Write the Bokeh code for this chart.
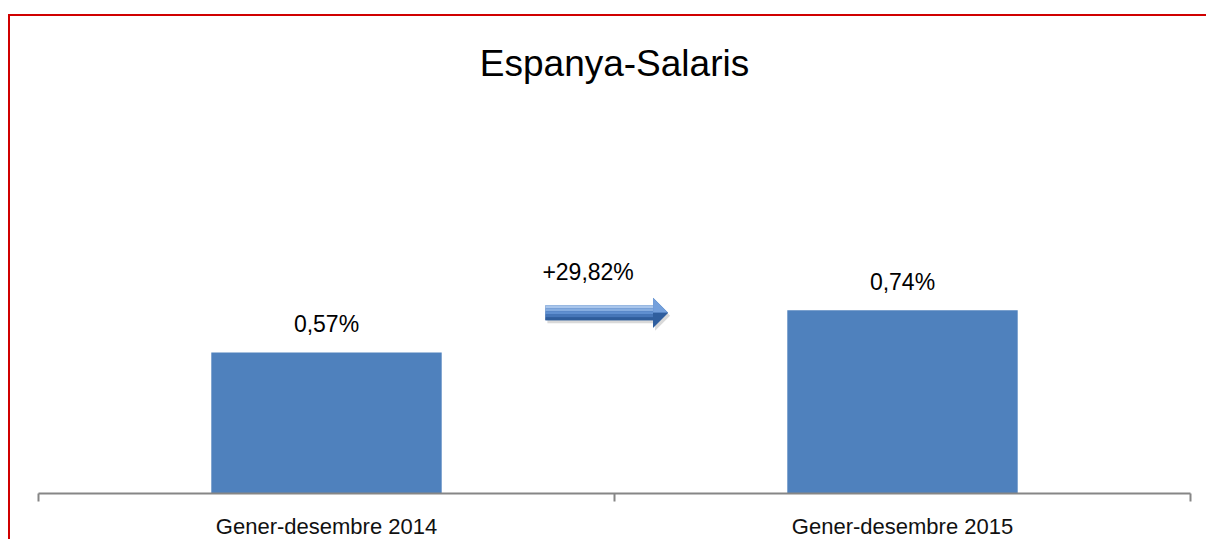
from bokeh.plotting import figure
from bokeh.models import Range1d, FixedTicker, ColumnDataSource, LabelSet, Label
from bokeh.core.properties import value
from bokeh.embed import file_html
from bokeh.resources import INLINE

# ---- data ----
chart_title = "Espanya-Salaris"
categories = ["Gener-desembre 2014", "Gener-desembre 2015"]
values = [0.57, 0.74]
value_labels = ["0,57%", "0,74%"]
change_label = "+29,82%"

# ---- layout constants ----
W, H = 1198, 525
FRAME_L, FRAME_R, FRAME_T, FRAME_B = 28, 18, 81, 48
Y_MAX = 1.6
FONT = "Liberation Sans"

n = len(categories)
xpos = [i + 0.5 for i in range(n)]

p = figure(width=W, height=H, output_backend="svg", toolbar_location=None,
           x_range=Range1d(0, n), y_range=Range1d(0, Y_MAX),
           y_axis_location=None,
           min_border_left=FRAME_L, min_border_right=FRAME_R,
           min_border_top=FRAME_T, min_border_bottom=FRAME_B)
p.styles = {"border-top": "2px solid #d00000", "border-left": "2px solid #d00000",
            "margin-top": "14px", "margin-left": "8px"}
p.outline_line_color = None
p.grid.visible = False
p.background_fill_color = "white"
p.border_fill_color = "white"

p.title.text = chart_title
p.title.align = "center"
p.title.text_font = FONT
p.title.text_font_size = "37px"
p.title.text_font_style = "normal"
p.title.text_color = "#000000"
p.title.standoff = 28

src = ColumnDataSource(dict(x=xpos, top=values, label=value_labels))
p.vbar(x="x", top="top", width=0.4, source=src, fill_color="#4f81bd", line_color=None)

p.add_layout(LabelSet(x="x", y="top", text="label", source=src, y_offset=20,
                      text_align="center", text_baseline="alphabetic",
                      text_font=value(FONT), text_font_size=value("23px"),
                      text_color="#000000"))

# axis
ax = p.xaxis[0]
ax.ticker = FixedTicker(ticks=xpos, minor_ticks=list(range(n + 1)))
ax.major_label_overrides = {x: c for x, c in zip(xpos, categories)}
ax.major_tick_line_color = None
ax.minor_tick_line_color = "#868686"
ax.minor_tick_line_width = 2
ax.minor_tick_in = 0
ax.minor_tick_out = 8
ax.axis_line_color = "#868686"
ax.axis_line_width = 2
ax.major_label_standoff = 12
ax.major_label_text_font = FONT
ax.major_label_text_font_size = "22px"
ax.major_label_text_color = "#111111"

# arrow (decoration between the bars)
FRAME_W = W - FRAME_L - FRAME_R
FRAME_H = H - FRAME_T - FRAME_B
ux = n / FRAME_W
uy = Y_MAX / (FRAME_H - 0.5)
ax0, ax1, ay = 0.88, 1.093, 0.73
head = 15 * ux
bh, hh = 7.5 * uy, 15 * uy

def arrow_poly(dx=0.0, dy=0.0):
    xs = [ax0, ax1 - head, ax1 - head, ax1, ax1 - head, ax1 - head, ax0]
    ys = [ay + bh, ay + bh, ay + hh, ay, ay - hh, ay - bh, ay - bh]
    return [x + dx for x in xs], [y + dy for y in ys]

sx, sy = arrow_poly(2 * ux, -3 * uy)
p.patch(sx, sy, fill_color="#808080", fill_alpha=0.3, line_color=None)
bx, by = arrow_poly()
p.patch(bx, by, fill_color="#3a6aab", line_color=None)
strip_cols = ["#a9c6ec", "#86ade0", "#5f8fd0", "#4676b8", "#2f5d9b"]
ns = len(strip_cols)
for i, c in enumerate(strip_cols):
    y_top = ay + bh - i * 2 * bh / ns
    y_bot = ay + bh - (i + 1) * 2 * bh / ns
    p.patch([ax0, ax1 - head, ax1 - head, ax0], [y_top, y_top, y_bot, y_bot],
            fill_color=c, line_color=None)
p.patch([ax1 - head, ax1, ax1 - head], [ay + hh, ay, ay], fill_color="#74a0dc", line_color=None)
p.patch([ax1 - head, ax1, ax1 - head], [ay, ay, ay - hh], fill_color="#2f5e9e", line_color=None)

p.add_layout(Label(x=ax0, y=ay, x_offset=-3, y_offset=41, text=change_label,
                   text_align="left", text_baseline="alphabetic",
                   text_font=FONT, text_font_size="23px", text_color="#000000"))

open("out.html", "w").write(file_html(p, INLINE))
